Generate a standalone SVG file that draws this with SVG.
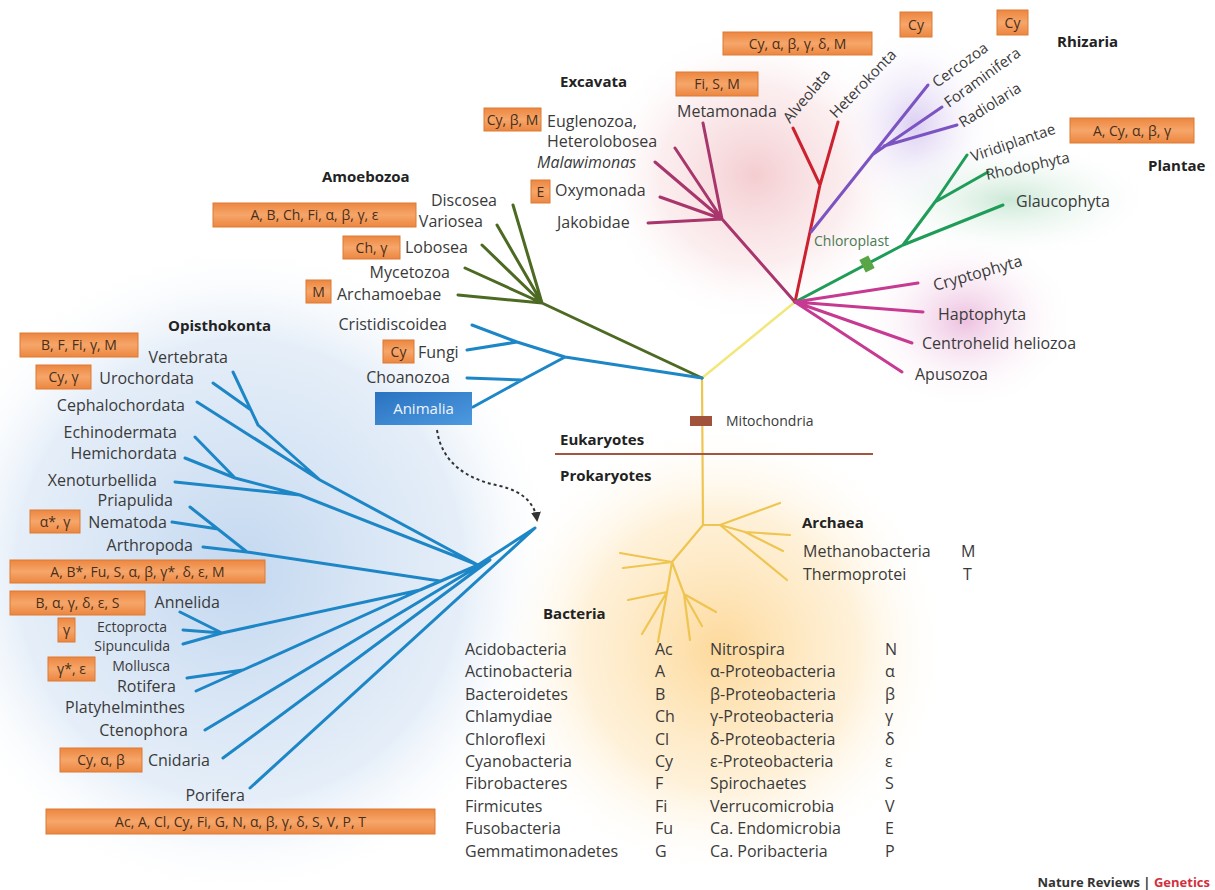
<svg xmlns="http://www.w3.org/2000/svg" width="1215" height="890" viewBox="0 0 1215 890">
<defs>
<style>
.t{font-family:"Open Sans","Noto Sans",sans-serif;font-size:16px;fill:#3a3a3a}
.e{text-anchor:end}
.i{font-style:italic}
.s{font-size:14px}
.g{font-family:"Open Sans","Noto Sans",sans-serif;font-size:15px;font-weight:700;fill:#222}
.bx{fill:url(#og);stroke:#dc7a35;stroke-width:1}
.bt{font-family:"Open Sans","Noto Sans",sans-serif;font-size:14px;fill:#4a2e18;text-anchor:middle}
.ln{fill:none;stroke-width:3;stroke-linecap:round;stroke-linejoin:round}
.bl{stroke:#1d86c6}
.am{stroke:#4d6a22}
.ex{stroke:#a8356c}
.ch{stroke:#cc2230}
.rh{stroke:#7c54c2}
.pl{stroke:#1e9c58}
.mg{stroke:#c63a92}
.ye{stroke:#f2e77a;stroke-width:2.5}
.pk{stroke:#efc552;stroke-width:2.2}
</style>
<linearGradient id="og" x1="0" y1="0" x2="0" y2="1">
<stop offset="0" stop-color="#ec8640"/><stop offset="0.5" stop-color="#f6a66a"/><stop offset="1" stop-color="#ec8640"/>
</linearGradient>
<linearGradient id="anim" x1="0" y1="0" x2="1" y2="1">
<stop offset="0" stop-color="#2a72c0"/><stop offset="1" stop-color="#4d9ae0"/>
</linearGradient>
<radialGradient id="gBlue"><stop offset="0" stop-color="#bcd3ee" stop-opacity="0.9"/><stop offset="0.7" stop-color="#d4e3f4" stop-opacity="0.6"/><stop offset="1" stop-color="#ffffff" stop-opacity="0"/></radialGradient>
<radialGradient id="gOr"><stop offset="0" stop-color="#fdd590" stop-opacity="0.9"/><stop offset="0.6" stop-color="#fee8c0" stop-opacity="0.6"/><stop offset="1" stop-color="#ffffff" stop-opacity="0"/></radialGradient>
<radialGradient id="gRed"><stop offset="0" stop-color="#f2c4c8" stop-opacity="0.85"/><stop offset="0.6" stop-color="#f8dde0" stop-opacity="0.5"/><stop offset="1" stop-color="#ffffff" stop-opacity="0"/></radialGradient>
<radialGradient id="gPur"><stop offset="0" stop-color="#d7c9f0" stop-opacity="0.9"/><stop offset="1" stop-color="#ffffff" stop-opacity="0"/></radialGradient>
<radialGradient id="gGr"><stop offset="0" stop-color="#c6e6d2" stop-opacity="0.9"/><stop offset="1" stop-color="#ffffff" stop-opacity="0"/></radialGradient>
<radialGradient id="gMg"><stop offset="0" stop-color="#ebb9dc" stop-opacity="0.9"/><stop offset="1" stop-color="#ffffff" stop-opacity="0"/></radialGradient>
<marker id="ah" viewBox="0 0 10 10" refX="8" refY="5" markerWidth="5" markerHeight="5" orient="auto"><path d="M0,0 L10,5 L0,10 z" fill="#333"/></marker>
</defs>
<rect width="1215" height="890" fill="#ffffff"/>

<g id="backgrounds">
<ellipse cx="240" cy="570" rx="320" ry="330" fill="url(#gBlue)"/>
<ellipse cx="720" cy="650" rx="230" ry="230" fill="url(#gOr)"/>
<ellipse cx="755" cy="175" rx="160" ry="150" fill="url(#gRed)"/>
<ellipse cx="915" cy="125" rx="85" ry="100" fill="url(#gPur)"/>
<ellipse cx="1010" cy="200" rx="150" ry="60" fill="url(#gGr)"/>
<ellipse cx="965" cy="320" rx="110" ry="90" fill="url(#gMg)"/>
</g>

<g id="connectors">
<path class="ln ye" d="M702,378 L795,302"/>
<path class="ln pk" d="M702,378 L703,525"/>
<path class="ln am" d="M702,378 L542,303 M542,303 L513,205 M542,303 L497,225 M542,303 L482,245 M542,303 L465,268 M542,303 L458,295"/>
<path class="ln bl" d="M702,378 L565,357 L517,342 L472,325 M517,342 L467,350 M565,357 L522,380 L473,407 M522,380 L467,378"/>
<path class="ln ex" d="M795,302 L722,219 M722,219 L703,123 M722,219 L675,148 M722,219 L655,162 M722,219 L660,197 M722,219 L648,223"/>
<path class="ln ch" d="M795,302 L820,185 L793,128 M820,185 L838,122"/>
<path class="ln rh" d="M811,232 L928,85 M872,155 L942,107 M884,146 L957,125"/>
<path class="ln pl" d="M795,302 L903,245 L1003,205 M903,245 L935,202 L967,155 M935,202 L988,172"/>
<path class="ln mg" d="M795,302 L918,283 M795,302 L923,312 M795,302 L912,343 M795,302 L902,372"/>
<path class="ln bl" d="M535,528 L478,565 M250,788 L535,528 M223,758 L490,560 M205,730 L482,564 M420,590 L478,565 M222,633 L420,590 M180,612 L222,633 M183,630 L222,633 M183,644 L222,633 M187,678 L243,670 M196,691 L243,670 M243,670 L440,581 M247,552 L440,581 M190,507 L247,552 M172,522 L218,529 M203,547 L247,552 M175,482 L300,495 L478,565 M195,437 L235,478 M185,458 L235,478 L300,495 M233,372 L258,425 M213,383 L251,410 M258,425 L320,480 M197,402 L320,480 L478,565"/>
<path class="ln pk" d="M703,525 L720,525 L780,503 M720,525 L745,532 L790,535 M745,532 L783,551 M720,525 L787,580"/>
<path class="ln pk" d="M703,525 L672,562 L620,553 M672,562 L623,568 M672,562 L667,592 L628,600 M667,592 L642,634 M667,592 L658,642 M672,562 L684,594 L690,640 M684,594 L702,626 M684,594 L716,612"/>
<path d="M437,430 C442,465 470,480 500,486 C525,492 535,505 537,520" fill="none" stroke="#333" stroke-width="2" stroke-dasharray="3,3" marker-end="url(#ah)"/>
</g>

<g id="divider">
<line x1="555" y1="454" x2="873" y2="454" stroke="#a4553f" stroke-width="2"/>
<text class="g" x="560" y="445">Eukaryotes</text>
<text class="g" x="560" y="481">Prokaryotes</text>
<rect x="690" y="416" width="22" height="10" fill="#a0523a"/>
<text class="t" x="726" y="426" style="font-size:14px">Mitochondria</text>
</g>

<g id="chloroplast">
<rect x="-5" y="-7" width="10" height="14" fill="#5aa646" transform="translate(867,264) rotate(-27)"/>
<text class="t" x="814" y="246" style="font-size:14px;fill:#4a7a52">Chloroplast</text>
</g>

<g id="opisthokonta">
<text class="g" x="168" y="331">Opisthokonta</text>
<rect class="bx" x="20" y="333" width="118" height="24"/><text class="bt" x="79" y="350">B, F, Fi, γ, M</text>
<text class="t e" x="228" y="363">Vertebrata</text>
<rect class="bx" x="36" y="365" width="55" height="24"/><text class="bt" x="63.5" y="382">Cy, γ</text>
<text class="t e" x="194" y="384">Urochordata</text>
<text class="t e" x="185" y="411">Cephalochordata</text>
<text class="t e" x="177" y="438">Echinodermata</text>
<text class="t e" x="177" y="459">Hemichordata</text>
<text class="t e" x="157" y="486">Xenoturbellida</text>
<text class="t e" x="173" y="506">Priapulida</text>
<rect class="bx" x="30" y="510" width="50" height="23"/><text class="bt" x="55" y="527">α*, γ</text>
<text class="t e" x="167" y="528">Nematoda</text>
<text class="t e" x="193" y="551">Arthropoda</text>
<rect class="bx" x="10" y="560" width="255" height="23"/><text class="bt" x="137.5" y="577">A, B*, Fu, S, α, β, γ*, δ, ε, M</text>
<rect class="bx" x="10" y="591" width="135" height="24"/><text class="bt" x="77.5" y="608">B, α, γ, δ, ε, S</text>
<text class="t e" x="220" y="608">Annelida</text>
<rect class="bx" x="58" y="618" width="17" height="24"/><text class="bt" x="66.5" y="635">γ</text>
<text class="t e s" x="167" y="632">Ectoprocta</text>
<text class="t e s" x="170" y="651">Sipunculida</text>
<rect class="bx" x="48" y="657" width="47" height="24"/><text class="bt" x="71.5" y="674">γ*, ε</text>
<text class="t e s" x="170" y="671">Mollusca</text>
<text class="t e" x="176" y="692">Rotifera</text>
<text class="t e" x="185" y="713">Platyhelminthes</text>
<text class="t e" x="188" y="736">Ctenophora</text>
<rect class="bx" x="60" y="748" width="82" height="24"/><text class="bt" x="101" y="765">Cy, α, β</text>
<text class="t e" x="210" y="766">Cnidaria</text>
<text class="t e" x="245" y="801">Porifera</text>
<rect class="bx" x="46" y="809" width="389" height="25"/><text class="bt" x="240.5" y="827">Ac, A, Cl, Cy, Fi, G, N, α, β, γ, δ, S, V, P, T</text>
<text class="t e" x="447" y="330">Cristidiscoidea</text>
<rect class="bx" x="383" y="340" width="31" height="23"/><text class="bt" x="398.5" y="357">Cy</text>
<text class="t" x="418" y="358">Fungi</text>
<text class="t e" x="450" y="383">Choanozoa</text>
</g>

<g id="animalia">
<rect x="375" y="392" width="97" height="33" fill="url(#anim)"/>
<text class="t" x="423.5" y="414" style="text-anchor:middle;fill:#eef4fb;font-size:15px">Animalia</text>
</g>

<g id="amoebozoa">
<text class="g" x="322" y="182">Amoebozoa</text>
<text class="t e" x="497" y="206">Discosea</text>
<rect class="bx" x="213" y="203" width="203" height="24"/><text class="bt" x="314.5" y="220">A, B, Ch, Fi, α, β, γ, ε</text>
<text class="t e" x="483" y="227">Variosea</text>
<rect class="bx" x="343" y="236" width="57" height="23"/><text class="bt" x="371.5" y="253">Ch, γ</text>
<text class="t" x="405" y="253">Lobosea</text>
<text class="t e" x="450" y="278">Mycetozoa</text>
<rect class="bx" x="306" y="280" width="25" height="23"/><text class="bt" x="318.5" y="297">M</text>
<text class="t" x="337" y="300">Archamoebae</text>
</g>

<g id="excavata">
<text class="g" x="560" y="87">Excavata</text>
<rect class="bx" x="676" y="72" width="82" height="24"/><text class="bt" x="717" y="89">Fi, S, M</text>
<text class="t" x="677" y="117">Metamonada</text>
<rect class="bx" x="484" y="108" width="57" height="23"/><text class="bt" x="512.5" y="125">Cy, β, M</text>
<text class="t" x="547" y="127">Euglenozoa,</text>
<text class="t" x="547" y="147">Heterolobosea</text>
<text class="t i" x="537" y="168">Malawimonas</text>
<rect class="bx" x="531" y="180" width="19" height="23"/><text class="bt" x="540.5" y="197">E</text>
<text class="t" x="555" y="196">Oxymonada</text>
<text class="t" x="557" y="228">Jakobidae</text>
</g>

<g id="chromalveolata">
<rect class="bx" x="723" y="32" width="149" height="23"/><text class="bt" x="797.5" y="49">Cy, α, β, γ, δ, M</text>
<rect class="bx" x="900" y="12" width="32" height="25"/><text class="bt" x="916" y="30">Cy</text>
<text class="t" transform="translate(790,124) rotate(-50)" style="font-size:15px">Alveolata</text>
<text class="t" transform="translate(836,119) rotate(-46)" style="font-size:15px">Heterokonta</text>
</g>

<g id="rhizaria">
<text class="g" x="1057" y="47">Rhizaria</text>
<rect class="bx" x="997" y="10" width="31" height="25"/><text class="bt" x="1012.5" y="28">Cy</text>
<text class="t" transform="translate(937,88) rotate(-36)" style="font-size:15px">Cercozoa</text>
<text class="t" transform="translate(949,108) rotate(-36)" style="font-size:15px">Foraminifera</text>
<text class="t" transform="translate(963,128) rotate(-32)" style="font-size:15px">Radiolaria</text>
</g>

<g id="plantae">
<text class="g" x="1148" y="171">Plantae</text>
<rect class="bx" x="1070" y="118" width="124" height="25"/><text class="bt" x="1132" y="136">A, Cy, α, β, γ</text>
<text class="t" transform="translate(973,162) rotate(-19)" style="font-size:15px">Viridiplantae</text>
<text class="t" transform="translate(987,180) rotate(-12)" style="font-size:15px">Rhodophyta</text>
<text class="t" x="1016" y="207">Glaucophyta</text>
</g>

<g id="others">
<text class="t" transform="translate(935,291) rotate(-16)">Cryptophyta</text>
<text class="t" x="938" y="320">Haptophyta</text>
<text class="t" x="922" y="349">Centrohelid heliozoa</text>
<text class="t" x="915" y="380">Apusozoa</text>
</g>

<g id="archaea">
<text class="g" x="802" y="528">Archaea</text>
<text class="t" x="803" y="557">Methanobacteria</text>
<text class="t" x="961" y="557">M</text>
<text class="t" x="803" y="580">Thermoprotei</text>
<text class="t" x="963" y="580">T</text>
</g>

<g id="bacteria">
<text class="g" x="543" y="619">Bacteria</text>
<g class="t">
<text x="465" y="655">Acidobacteria</text><text x="655" y="655">Ac</text><text x="710" y="655">Nitrospira</text><text x="885" y="655">N</text>
<text x="465" y="677">Actinobacteria</text><text x="655" y="677">A</text><text x="710" y="677">α-Proteobacteria</text><text x="885" y="677">α</text>
<text x="465" y="700">Bacteroidetes</text><text x="655" y="700">B</text><text x="710" y="700">β-Proteobacteria</text><text x="885" y="700">β</text>
<text x="465" y="722">Chlamydiae</text><text x="655" y="722">Ch</text><text x="710" y="722">γ-Proteobacteria</text><text x="885" y="722">γ</text>
<text x="465" y="745">Chloroflexi</text><text x="655" y="745">Cl</text><text x="710" y="745">δ-Proteobacteria</text><text x="885" y="745">δ</text>
<text x="465" y="767">Cyanobacteria</text><text x="655" y="767">Cy</text><text x="710" y="767">ε-Proteobacteria</text><text x="885" y="767">ε</text>
<text x="465" y="789">Fibrobacteres</text><text x="655" y="789">F</text><text x="710" y="789">Spirochaetes</text><text x="885" y="789">S</text>
<text x="465" y="812">Firmicutes</text><text x="655" y="812">Fi</text><text x="710" y="812">Verrucomicrobia</text><text x="885" y="812">V</text>
<text x="465" y="834">Fusobacteria</text><text x="655" y="834">Fu</text><text x="710" y="834">Ca. Endomicrobia</text><text x="885" y="834">E</text>
<text x="465" y="857">Gemmatimonadetes</text><text x="655" y="857">G</text><text x="710" y="857">Ca. Poribacteria</text><text x="885" y="857">P</text>
</g>
</g>

<g id="credit">
<text x="1210" y="887" style="font-family:'Open Sans','Noto Sans',sans-serif;font-size:13px;font-weight:700;text-anchor:end"><tspan fill="#333">Nature Reviews | </tspan><tspan fill="#d03040">Genetics</tspan></text>
</g>
</svg>
